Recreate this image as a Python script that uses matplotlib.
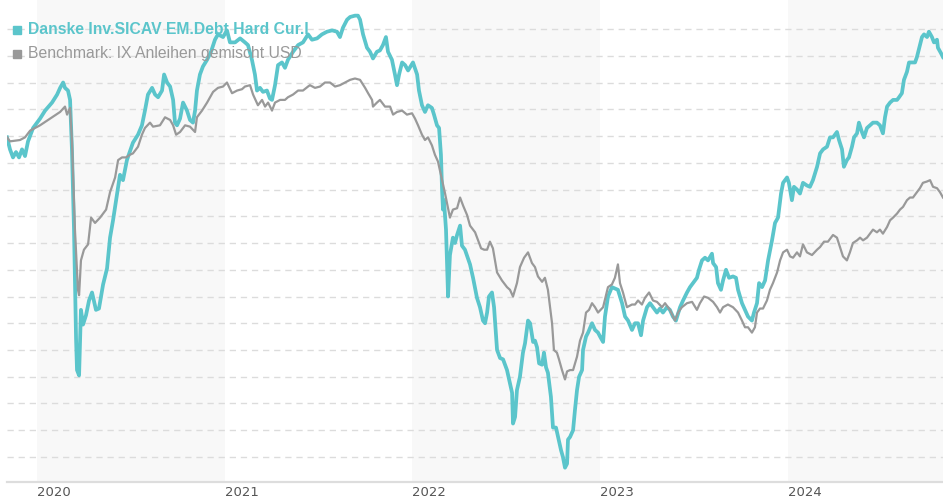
import matplotlib
matplotlib.use("Agg")
import matplotlib.pyplot as plt

# performance in %, time in decimal years
fund_t = [2019.840, 2019.856, 2019.872, 2019.888, 2019.904, 2019.920, 2019.936, 2019.952, 2019.979, 2020.016,
          2020.043, 2020.080, 2020.107, 2020.123, 2020.139, 2020.149, 2020.165, 2020.176, 2020.186, 2020.197,
          2020.208, 2020.213, 2020.224, 2020.234, 2020.245, 2020.261, 2020.277, 2020.293, 2020.314, 2020.330,
          2020.352, 2020.373, 2020.389, 2020.405, 2020.426, 2020.442, 2020.458, 2020.479, 2020.511, 2020.538,
          2020.559, 2020.575, 2020.591, 2020.613, 2020.629, 2020.645, 2020.666, 2020.677, 2020.693, 2020.709,
          2020.725, 2020.735, 2020.746, 2020.762, 2020.778, 2020.799, 2020.815, 2020.831, 2020.842, 2020.852,
          2020.868, 2020.884, 2020.906, 2020.927, 2020.948, 2020.964, 2020.991, 2021.012, 2021.028, 2021.055,
          2021.082, 2021.108, 2021.124, 2021.145, 2021.161, 2021.172, 2021.188, 2021.204, 2021.225, 2021.241,
          2021.252, 2021.268, 2021.284, 2021.305, 2021.321, 2021.337, 2021.364, 2021.391, 2021.417, 2021.444,
          2021.465, 2021.492, 2021.518, 2021.545, 2021.572, 2021.598, 2021.614, 2021.630, 2021.652, 2021.668,
          2021.694, 2021.710, 2021.721, 2021.737, 2021.758, 2021.774, 2021.790, 2021.811, 2021.827, 2021.843,
          2021.859, 2021.870, 2021.891, 2021.907, 2021.918, 2021.929, 2021.945, 2021.961, 2021.977, 2022.003,
          2022.025, 2022.035, 2022.051, 2022.067, 2022.083, 2022.104, 2022.115, 2022.131, 2022.142, 2022.152,
          2022.158, 2022.163, 2022.168, 2022.179, 2022.190, 2022.200, 2022.216, 2022.227, 2022.238, 2022.254,
          2022.264, 2022.280, 2022.307, 2022.323, 2022.344, 2022.360, 2022.376, 2022.387, 2022.398, 2022.408,
          2022.424, 2022.435, 2022.451, 2022.467, 2022.483, 2022.504, 2022.515, 2022.531, 2022.536, 2022.547,
          2022.557, 2022.573, 2022.589, 2022.600, 2022.616, 2022.627, 2022.643, 2022.653, 2022.664, 2022.675,
          2022.691, 2022.701, 2022.712, 2022.722, 2022.738, 2022.749, 2022.765, 2022.776, 2022.792, 2022.802,
          2022.813, 2022.824, 2022.829, 2022.840, 2022.856, 2022.866, 2022.877, 2022.888, 2022.904, 2022.909,
          2022.925, 2022.936, 2022.957, 2022.973, 2022.989, 2023.000, 2023.016, 2023.026, 2023.042, 2023.063,
          2023.079, 2023.095, 2023.117, 2023.133, 2023.149, 2023.170, 2023.186, 2023.202, 2023.218, 2023.229,
          2023.250, 2023.266, 2023.282, 2023.303, 2023.319, 2023.335, 2023.356, 2023.372, 2023.388, 2023.404,
          2023.426, 2023.442, 2023.463, 2023.479, 2023.495, 2023.516, 2023.527, 2023.543, 2023.559, 2023.575,
          2023.596, 2023.602, 2023.618, 2023.628, 2023.644, 2023.655, 2023.671, 2023.687, 2023.708, 2023.724,
          2023.735, 2023.756, 2023.772, 2023.788, 2023.809, 2023.820, 2023.836, 2023.847, 2023.863, 2023.879,
          2023.895, 2023.916, 2023.932, 2023.948, 2023.964, 2023.975, 2023.996, 2024.006, 2024.022, 2024.033,
          2024.049, 2024.065, 2024.081, 2024.102, 2024.118, 2024.134, 2024.156, 2024.172, 2024.188, 2024.209,
          2024.225, 2024.241, 2024.262, 2024.273, 2024.289, 2024.299, 2024.315, 2024.326, 2024.342, 2024.353,
          2024.369, 2024.379, 2024.395, 2024.406, 2024.422, 2024.438, 2024.454, 2024.475, 2024.491, 2024.507,
          2024.518, 2024.529, 2024.545, 2024.561, 2024.582, 2024.593, 2024.608, 2024.619, 2024.635, 2024.646,
          2024.662, 2024.678, 2024.688, 2024.704, 2024.715, 2024.726, 2024.742, 2024.752, 2024.768, 2024.779,
          2024.795, 2024.800, 2024.816, 2024.827]
fund_v = [-0.1, -1.0, -1.6, -1.2, -1.6, -1.0, -1.5, -0.4, 0.6, 1.3,
          1.9, 2.5, 3.1, 3.6, 4.0, 3.6, 3.4, 2.7, -1.0, -7.0,
          -15.2, -17.5, -17.9, -13.0, -14.1, -13.4, -12.3, -11.7, -13.0, -12.9,
          -11.1, -9.9, -7.6, -6.3, -4.4, -2.9, -3.3, -1.8, -0.5, 0.1,
          0.8, 1.9, 3.1, 3.6, 3.1, 2.9, 3.4, 4.6, 4.0, 3.7,
          2.7, 1.0, 0.8, 1.3, 2.5, 1.9, 1.2, 1.0, 1.9, 3.4,
          4.6, 5.2, 5.7, 6.3, 7.2, 7.6, 7.4, 7.9, 7.0, 7.0,
          7.3, 7.0, 6.8, 5.7, 4.6, 3.4, 3.6, 3.3, 3.4, 2.8,
          2.7, 3.8, 5.3, 5.5, 5.1, 5.7, 6.3, 6.8, 7.0, 7.6,
          7.2, 7.3, 7.6, 7.8, 7.9, 7.8, 7.4, 8.1, 8.7, 8.9,
          9.0, 9.0, 8.7, 7.6, 6.6, 6.3, 5.8, 6.3, 6.4, 6.8,
          7.4, 6.3, 5.7, 4.6, 3.8, 4.6, 5.5, 5.3, 4.9, 5.5,
          4.6, 3.4, 2.3, 1.8, 2.3, 2.1, 1.6, 0.8, 0.6, -1.4,
          -4.0, -5.5, -4.8, -7.0, -12.0, -8.9, -7.6, -8.0, -7.4, -6.7,
          -8.2, -8.5, -9.6, -10.6, -12.1, -12.8, -13.8, -14.0, -13.2, -12.0,
          -11.7, -12.8, -16.0, -16.6, -16.7, -17.5, -18.2, -19.2, -21.5, -21.0,
          -19.0, -18.0, -16.2, -15.5, -13.8, -14.0, -15.4, -15.3, -15.8, -17.0,
          -17.1, -16.2, -17.3, -17.7, -19.5, -21.8, -21.8, -22.5, -23.5, -24.0,
          -24.8, -24.5, -22.7, -22.5, -22.0, -20.5, -19.0, -18.0, -17.5, -16.0,
          -15.0, -14.7, -14.0, -14.5, -14.7, -15.0, -15.4, -13.5, -12.0, -11.3,
          -11.4, -11.5, -12.5, -13.5, -13.8, -14.5, -14.0, -14.0, -14.9, -13.8,
          -12.8, -12.5, -12.8, -13.2, -12.9, -13.2, -12.8, -13.0, -13.5, -13.8,
          -12.8, -12.3, -11.7, -11.3, -11.0, -10.6, -10.0, -9.3, -9.1, -9.3,
          -8.8, -9.5, -9.8, -11.0, -11.5, -10.8, -10.0, -10.6, -10.5, -10.6,
          -11.5, -12.5, -13.0, -13.5, -13.8, -13.2, -12.5, -11.0, -11.3, -10.8,
          -9.3, -7.8, -6.5, -6.1, -4.3, -3.5, -3.1, -3.5, -4.8, -3.8,
          -4.0, -4.3, -3.5, -3.7, -3.8, -3.3, -2.3, -1.3, -1.0, -0.8,
          -0.1, -0.1, 0.3, -0.3, -1.0, -2.3, -1.8, -1.6, -0.8, -0.1,
          0.2, 1.0, 0.3, -0.1, 0.6, 0.8, 1.0, 1.0, 0.8, 0.2,
          1.4, 2.2, 2.5, 2.7, 2.7, 2.9, 3.2, 4.2, 4.8, 5.5,
          5.5, 5.5, 5.9, 6.8, 7.4, 7.6, 7.4, 7.8, 7.4, 7.0,
          7.2, 6.6, 6.2, 5.9]

bench_t = [2019.840, 2019.856, 2019.909, 2019.936, 2019.963, 2020.016, 2020.069, 2020.123, 2020.149, 2020.160,
           2020.176, 2020.186, 2020.202, 2020.218, 2020.224, 2020.234, 2020.250, 2020.272, 2020.288, 2020.309,
           2020.336, 2020.368, 2020.389, 2020.416, 2020.432, 2020.453, 2020.474, 2020.495, 2020.511, 2020.538,
           2020.559, 2020.575, 2020.602, 2020.618, 2020.655, 2020.682, 2020.709, 2020.725, 2020.741, 2020.762,
           2020.789, 2020.815, 2020.842, 2020.852, 2020.879, 2020.906, 2020.938, 2020.964, 2020.991, 2021.012,
           2021.039, 2021.066, 2021.092, 2021.108, 2021.135, 2021.151, 2021.177, 2021.199, 2021.215, 2021.231,
           2021.252, 2021.268, 2021.295, 2021.321, 2021.337, 2021.364, 2021.391, 2021.417, 2021.444, 2021.454,
           2021.481, 2021.508, 2021.534, 2021.561, 2021.588, 2021.614, 2021.641, 2021.668, 2021.694, 2021.721,
           2021.748, 2021.764, 2021.785, 2021.790, 2021.811, 2021.827, 2021.854, 2021.881, 2021.897, 2021.918,
           2021.945, 2021.971, 2021.998, 2022.014, 2022.030, 2022.051, 2022.067, 2022.083, 2022.104, 2022.120,
           2022.136, 2022.158, 2022.174, 2022.190, 2022.200, 2022.216, 2022.238, 2022.254, 2022.270, 2022.291,
           2022.307, 2022.334, 2022.350, 2022.366, 2022.382, 2022.398, 2022.413, 2022.429, 2022.451, 2022.477,
           2022.504, 2022.520, 2022.536, 2022.557, 2022.573, 2022.595, 2022.616, 2022.637, 2022.653, 2022.669,
           2022.691, 2022.706, 2022.722, 2022.744, 2022.754, 2022.770, 2022.781, 2022.797, 2022.813, 2022.824,
           2022.840, 2022.856, 2022.877, 2022.893, 2022.909, 2022.925, 2022.941, 2022.957, 2022.973, 2022.989,
           2023.016, 2023.042, 2023.063, 2023.079, 2023.095, 2023.106, 2023.122, 2023.143, 2023.170, 2023.186,
           2023.202, 2023.223, 2023.239, 2023.261, 2023.282, 2023.303, 2023.330, 2023.346, 2023.372, 2023.399,
           2023.415, 2023.436, 2023.463, 2023.490, 2023.516, 2023.532, 2023.554, 2023.575, 2023.602, 2023.623,
           2023.639, 2023.655, 2023.681, 2023.708, 2023.735, 2023.756, 2023.772, 2023.788, 2023.809, 2023.825,
           2023.836, 2023.852, 2023.868, 2023.889, 2023.905, 2023.921, 2023.943, 2023.959, 2023.975, 2023.996,
           2024.012, 2024.028, 2024.049, 2024.065, 2024.081, 2024.102, 2024.129, 2024.156, 2024.172, 2024.193,
           2024.214, 2024.241, 2024.262, 2024.278, 2024.294, 2024.315, 2024.331, 2024.347, 2024.369, 2024.385,
           2024.401, 2024.422, 2024.438, 2024.454, 2024.475, 2024.491, 2024.507, 2024.529, 2024.545, 2024.561,
           2024.582, 2024.598, 2024.614, 2024.635, 2024.651, 2024.667, 2024.688, 2024.704, 2024.720, 2024.742,
           2024.758, 2024.774, 2024.795, 2024.811, 2024.827]
bench_v = [-0.1, -0.4, -0.3, -0.1, 0.4, 0.8, 1.3, 1.8, 2.2, 1.6,
           2.1, -0.3, -7.0, -11.5, -11.9, -9.3, -8.5, -8.1, -6.1, -6.5,
           -6.1, -5.5, -4.2, -3.1, -1.8, -1.6, -1.6, -1.4, -1.3, -0.8,
           0.1, 0.6, 1.0, 0.7, 0.8, 1.4, 1.2, 0.8, 0.1, 0.3,
           0.8, 0.7, 0.3, 1.4, 1.9, 2.5, 3.3, 3.6, 3.7, 4.0,
           3.2, 3.4, 3.5, 3.7, 3.8, 3.1, 2.3, 2.7, 2.2, 2.5,
           1.9, 2.5, 2.7, 2.7, 2.9, 3.1, 3.4, 3.4, 3.7, 3.8,
           3.6, 3.7, 4.0, 4.0, 3.7, 3.8, 4.0, 4.2, 4.3, 4.2,
           3.6, 3.2, 2.7, 2.2, 2.5, 2.7, 2.2, 2.2, 1.6, 1.8,
           1.9, 1.6, 1.7, 1.3, 0.8, 0.1, -0.3, -0.1, -0.7, -1.4,
           -1.9, -3.3, -4.3, -5.4, -6.1, -5.5, -5.4, -4.6, -5.2, -5.9,
           -6.7, -7.2, -7.8, -8.4, -8.5, -8.5, -7.9, -8.4, -10.2, -10.8,
           -11.3, -11.5, -12.0, -11.0, -9.8, -9.1, -8.7, -9.5, -9.8, -10.5,
           -10.9, -10.6, -11.5, -14.0, -16.0, -16.2, -16.7, -17.5, -18.2, -17.6,
           -17.5, -17.5, -16.5, -15.3, -14.7, -13.2, -13.0, -12.5, -12.8, -13.2,
           -12.8, -11.3, -11.1, -10.6, -9.6, -11.0, -11.7, -12.8, -12.6, -12.6,
           -12.3, -12.6, -12.1, -11.7, -12.3, -12.4, -12.8, -12.5, -13.0, -13.8,
           -13.2, -12.8, -12.5, -12.4, -13.0, -12.5, -12.0, -12.1, -12.4, -12.8,
           -13.2, -12.8, -12.6, -12.8, -13.2, -13.8, -14.3, -14.3, -14.7, -14.3,
           -13.2, -12.9, -12.9, -12.3, -11.5, -11.0, -10.2, -9.3, -8.7, -8.5,
           -9.0, -9.1, -8.7, -9.0, -8.1, -8.7, -8.9, -8.5, -8.3, -7.9,
           -7.9, -7.4, -7.6, -8.3, -9.0, -9.3, -8.7, -8.0, -7.8, -7.6,
           -7.8, -7.6, -7.3, -7.0, -7.2, -7.0, -7.3, -6.8, -6.3, -6.1,
           -5.8, -5.5, -5.3, -4.8, -4.6, -4.6, -4.2, -3.9, -3.5, -3.4,
           -3.3, -3.8, -3.9, -4.2, -4.6]

years = [2020, 2021, 2022, 2023, 2024]
shaded_years = [2020, 2022, 2024]
fund_name = "Danske Inv.SICAV EM.Debt Hard Cur.I"
bench_name = "Benchmark: IX Anleihen gemischt USD"

teal = "#5bc5cb"
grey = "#999999"

plt.rcParams["lines.scale_dashes"] = False

fig = plt.figure(figsize=(9.43, 5.0), dpi=100)
ax = fig.add_axes([7 / 943, 18 / 500, 936 / 943, 482 / 500])

x0, x1 = fund_t[0], fund_t[-1]
for y in shaded_years:
    ax.axvspan(y, min(y + 1, x1), color="#f8f8f8", lw=0, zorder=0)

ax.set_xlim(x0, x1)
ax.set_ylim(-25.87, 10.17)
ax.set_yticks(range(-24, 10, 2))
ax.yaxis.grid(True, color="#dcdcdc", lw=1.0, ls=(0, (4.5, 3.5)), zorder=1)
ax.tick_params(axis="y", left=False, labelleft=False)

ax.plot(fund_t, fund_v, color=teal, lw=2.7, zorder=3, solid_joinstyle="round")
ax.plot(bench_t, bench_v, color=grey, lw=1.6, zorder=4, solid_joinstyle="round")

ax.set_xticks(years)
ax.set_xticklabels([str(y) for y in years], ha="left", color="#555555", fontsize=9.5)
ax.tick_params(axis="x", length=0, pad=3)

for s in ["top", "left", "right"]:
    ax.spines[s].set_visible(False)
ax.spines["bottom"].set_color("#dddddd")
ax.spines["bottom"].set_linewidth(1.6)

# legend drawn as text at the top left
ax.plot([0.0105], [0.938], marker="s", ms=5.2, color=teal, transform=ax.transAxes,
        clip_on=False, zorder=6)
ax.text(0.0225, 0.938, fund_name, transform=ax.transAxes, color=teal, fontsize=11.3,
        fontweight="bold", family="Liberation Sans", va="center", zorder=6)
ax.plot([0.0105], [0.889], marker="s", ms=5.2, color=grey, transform=ax.transAxes,
        clip_on=False, zorder=6)
ax.text(0.0225, 0.889, bench_name, transform=ax.transAxes, color=grey, fontsize=11.3,
        family="Liberation Sans", va="center", zorder=6)

fig.savefig("out.png", dpi=100)
